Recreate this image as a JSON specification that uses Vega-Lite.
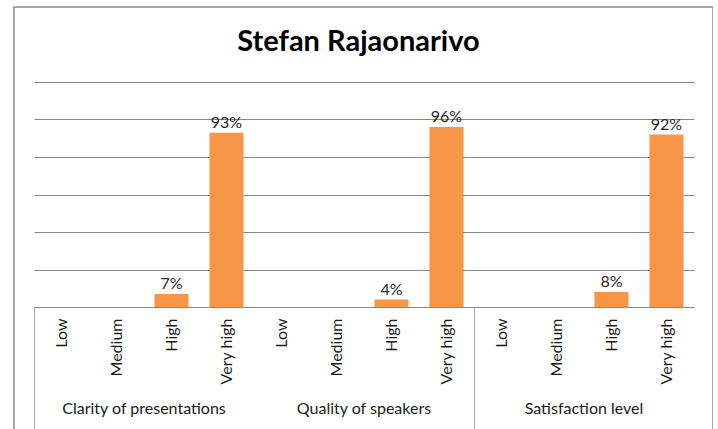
{
  "$schema": "https://vega.github.io/schema/vega-lite/v6.json",
  "width": 699,
  "height": 430,
  "autosize": {"type": "none"},
  "padding": {"left": 14, "top": 7, "right": 0, "bottom": 0},
  "background": "white",
  "config": {"view": {"stroke": "#8c8c8c", "strokeWidth": 1.5}, "font": "Lato"},
  "title": {"text": "Stefan Rajaonarivo", "font": "Lato", "fontSize": 29, "fontWeight": "bold", "color": "#000000", "anchor": "middle", "offset": -50, "dx": -5, "frame": "group"},
  "datasets": {
    "scores": [
      {"group": "Clarity of presentations", "level": "Low", "key": "Clarity of presentations|Low", "value": 0},
      {"group": "Clarity of presentations", "level": "Medium", "key": "Clarity of presentations|Medium", "value": 0},
      {"group": "Clarity of presentations", "level": "High", "key": "Clarity of presentations|High", "value": 0.07},
      {"group": "Clarity of presentations", "level": "Very high", "key": "Clarity of presentations|Very high", "value": 0.93},
      {"group": "Quality of speakers", "level": "Low", "key": "Quality of speakers|Low", "value": 0},
      {"group": "Quality of speakers", "level": "Medium", "key": "Quality of speakers|Medium", "value": 0},
      {"group": "Quality of speakers", "level": "High", "key": "Quality of speakers|High", "value": 0.04},
      {"group": "Quality of speakers", "level": "Very high", "key": "Quality of speakers|Very high", "value": 0.96},
      {"group": "Satisfaction level", "level": "Low", "key": "Satisfaction level|Low", "value": 0},
      {"group": "Satisfaction level", "level": "Medium", "key": "Satisfaction level|Medium", "value": 0},
      {"group": "Satisfaction level", "level": "High", "key": "Satisfaction level|High", "value": 0.08},
      {"group": "Satisfaction level", "level": "Very high", "key": "Satisfaction level|Very high", "value": 0.92}
    ],
    "groups": [
      {"group": "Clarity of presentations"},
      {"group": "Quality of speakers"},
      {"group": "Satisfaction level"}
    ]
  },
  "layer": [
    {
      "data": {"name": "scores"},
      "encoding": {
        "x": {
          "field": "key", "type": "nominal", "sort": null,
          "scale": {"range": [20, 680], "paddingInner": 0.38, "paddingOuter": 0.19},
          "axis": {
            "orient": "bottom", "offset": -130, "title": null, "ticks": false,
            "domain": true, "domainColor": "#868686", "domainWidth": 1,
            "labelAngle": 270, "labelAlign": "right", "labelBaseline": "middle",
            "labelPadding": 11, "labelFont": "Lato", "labelFontSize": 16, "labelColor": "#1a1a1a",
            "labelOverlap": false,
            "labelExpr": "split(datum.value, '|')[1]"
          }
        },
        "y": {
          "field": "value", "type": "quantitative",
          "scale": {"domain": [0, 1.2], "range": [300, 75]},
          "axis": {
            "title": null, "labels": false, "ticks": false, "domain": false,
            "grid": true, "gridColor": "#868686", "gridWidth": 1,
            "values": [0, 0.2, 0.4, 0.6, 0.8, 1.0, 1.2]
          }
        }
      },
      "layer": [
        {"mark": {"type": "bar", "color": "#F79646"}},
        {
          "transform": [{"filter": "datum.value > 0"}],
          "mark": {"type": "text", "baseline": "bottom", "dy": -2, "font": "Lato", "fontSize": 16, "color": "#262626"},
          "encoding": {"text": {"field": "value", "type": "quantitative", "format": ".0%"}}
        }
      ]
    },
    {
      "data": {"name": "groups"},
      "mark": {"type": "rule", "opacity": 0},
      "encoding": {
        "x": {
          "field": "group", "type": "nominal", "sort": null,
          "scale": {"range": [20, 680], "paddingInner": 0, "paddingOuter": 0},
          "axis": {
            "orient": "bottom", "offset": -130, "title": null, "domain": false,
            "ticks": true, "bandPosition": 0, "tickExtra": true, "tickSize": 140,
            "tickColor": "#a6a6a6", "tickWidth": 1,
            "tickOpacity": {"condition": {"test": "datum.value === 'Quality of speakers'", "value": 0}, "value": 1},
            "labelAngle": 0, "labelPadding": -47, "labelFont": "Lato", "labelFontSize": 16, "labelColor": "#1a1a1a"
          }
        }
      }
    }
  ],
  "resolve": {
    "scale": {"x": "independent", "y": "independent"},
    "axis": {"x": "independent", "y": "independent"}
  }
}
